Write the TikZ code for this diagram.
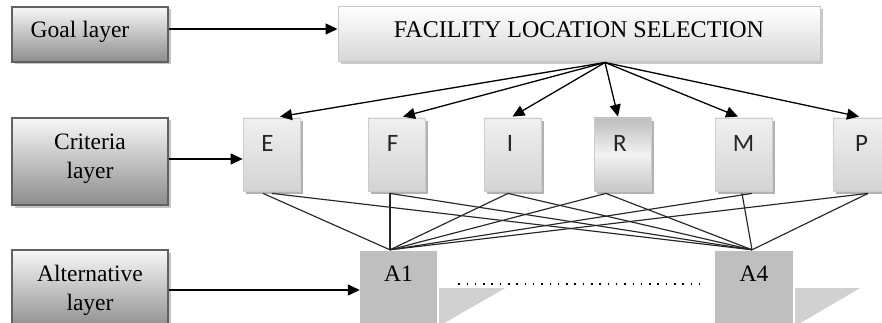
\documentclass[tikz,border=0pt]{standalone}
\usepackage{fontspec}
\setmainfont{Liberation Serif}
\newfontfamily\critfont{Carlito}
\usetikzlibrary{arrows.meta,shadows}
\begin{document}
\begin{tikzpicture}[x=1pt,y=-1pt,
  % grey layer boxes on the left
  layerbox/.style={draw=black!62, line width=1.4pt, top color=black!3, bottom color=black!45,
    minimum width=156pt, inner sep=0pt,
    drop shadow={shadow xshift=2.5pt, shadow yshift=-2.5pt, fill=black!45, opacity=0.5}},
  laytext/.style={font=\fontsize{23.5}{29}\selectfont, align=center, inner sep=0pt},
  % goal box
  goalbox/.style={draw=black!22, line width=1pt, top color=white, bottom color=black!16,
    minimum width=482pt, minimum height=55pt, inner sep=0pt,
    drop shadow={shadow xshift=2.5pt, shadow yshift=-2.5pt, fill=black!35, opacity=0.6}},
  % criteria boxes
  critbox/.style={draw=black!20, line width=0.8pt, top color=black!6, bottom color=black!17,
    minimum width=57pt, minimum height=73pt, inner sep=0pt,
    drop shadow={shadow xshift=3pt, shadow yshift=-3pt, fill=black!30, opacity=1}},
  crittext/.style={font=\critfont\fontsize{25}{25}\selectfont, text=black!85, inner sep=0pt, text depth=0pt},
  % alternative boxes
  altbox/.style={fill=black!25, minimum width=77pt, minimum height=80pt, inner sep=0pt},
  alttext/.style={font=\fontsize{23.5}{23.5}\selectfont, inner sep=0pt, text depth=0pt},
  tri/.style={fill=black!18},
  arr/.style={line width=1.3pt, -{Triangle[length=12pt,width=11pt]}},
  link/.style={line width=1.15pt, draw=black!85},
]
\clip (0,0) rectangle (882,323);
\fill[white] (0,0) rectangle (882,323);

% layer boxes
\node[layerbox, minimum height=55pt,
  label={[laytext, text height=15pt, text depth=0pt, xshift=-10pt, yshift=4.2pt]center:Goal layer}]
  (goal) at (90,34.5) {};
\node[layerbox, minimum height=87pt,
  label={[laytext, yshift=3pt]center:Criteria\\layer}]
  (crit) at (90,161.5) {};
\node[layerbox, minimum height=80pt,
  label={[laytext, yshift=0pt]center:Alternative\\layer}]
  (alt) at (90,290) {};

% goal
\node[goalbox,
  label={[font=\fontsize{24}{24}\selectfont, inner sep=0pt, text depth=0pt, yshift=5pt]center:FACILITY LOCATION SELECTION}]
  (fls) at (579,34.5) {};

% criteria
\node[critbox, label={[crittext, anchor=center, xshift=-4pt, yshift=-25.5pt]north:E}] (E) at (271.5,154.5) {};
\node[critbox, label={[crittext, anchor=center, xshift=-4pt, yshift=-25.5pt]north:F}] (F) at (396.5,154.5) {};
\node[critbox, label={[crittext, anchor=center, xshift=-2.5pt, yshift=-25.5pt]north:I}] (I) at (512.5,154.5) {};
\node[critbox, shading angle=35, top color=black!26, bottom color=black!22, middle color=black!5,
  label={[crittext, anchor=center, xshift=-2.5pt, yshift=-25.5pt]north:R}] (R) at (622.5,154.5) {};
\node[critbox, label={[crittext, anchor=center, yshift=-25.5pt]north:M}] (M) at (743.5,154.5) {};
\node[critbox, label={[crittext, anchor=center, yshift=-25.5pt]north:P}] (P) at (861.5,154.5) {};

% alternatives with their wedge shadows
\node[altbox, label={[alttext, anchor=center, yshift=-23.2pt]north:A1}] (A1) at (398.5,291) {};
\node[altbox, minimum width=78pt, label={[alttext, anchor=center, yshift=-23.2pt]north:A4}] (A4) at (754,291) {};
\fill[tri] ([xshift=2pt]A1.east |- 0,288) -- ++(66,0) -- ([xshift=2pt]A1.east |- 0,326) -- cycle;
\fill[tri] ([xshift=2pt]A4.east |- 0,288) -- ++(65,0) -- ([xshift=2pt]A4.east |- 0,326) -- cycle;
\draw[line width=1.5pt, dash pattern=on 1.5pt off 6.8pt]
  ([xshift=21pt]A1.east |- 0,284) -- ([xshift=-8pt]A4.west |- 0,284);

% layer arrows
\draw[arr] ([yshift=5.5pt]goal.east) -- ([yshift=5.5pt]fls.west);
\draw[arr] (crit.east |- 0,159) -- (E.west |- 0,159);
\draw[arr] (alt.east) -- (alt.east -| A1.west);

% goal to criteria
\coordinate (apex) at ([xshift=26pt]fls.south);
\draw[arr] (apex) -- ([xshift=8.5pt,yshift=1pt]E.north);
\draw[arr] (apex) -- ([xshift=6.5pt,yshift=1pt]F.north);
\draw[arr] (apex) -- ([yshift=1pt]I.north);
\draw[arr] (apex) -- ([xshift=-4.5pt,yshift=1pt]R.north);
\draw[arr] (apex) -- ([xshift=-5.5pt,yshift=1pt]M.north);
\draw[arr] (apex) -- ([xshift=-2.5pt,yshift=1pt]P.north);

% criteria to alternatives
\coordinate (a1top) at ([xshift=-8.5pt,yshift=1pt]A1.north);
\coordinate (a4top) at ([xshift=-2pt,yshift=1pt]A4.north);
\coordinate (e1) at ([xshift=-8.5pt,yshift=-2pt]E.south);
\coordinate (e2) at ([xshift=0.5pt,yshift=-2pt]E.south);
\coordinate (f1) at ([xshift=-6.5pt,yshift=-2pt]F.south);
\coordinate (i1) at ([xshift=-4.5pt,yshift=-2pt]I.south);
\coordinate (r1) at ([xshift=-16.5pt,yshift=-2pt]R.south);
\coordinate (m1) at ([xshift=-1.5pt,yshift=-2pt]M.south);
\coordinate (m2) at ([xshift=8.5pt,yshift=-2pt]M.south);
\coordinate (p1) at ([xshift=6.5pt,yshift=-2pt]P.south);
\draw[link] (e1) -- (a1top);
\draw[link] (e2) -- (a4top);
\draw[link] (f1) -- (a1top);
\draw[link] (f1) -- (a4top);
\draw[link] (i1) -- (a1top);
\draw[link] (i1) -- (a4top);
\draw[link] (r1) -- (a1top);
\draw[link] (r1) -- (a4top);
\draw[link] (m2) -- (a1top);
\draw[link] (m1) -- (a4top);
\draw[link] (p1) -- (a1top);
\draw[link] (p1) -- (a4top);
\end{tikzpicture}
\end{document}
